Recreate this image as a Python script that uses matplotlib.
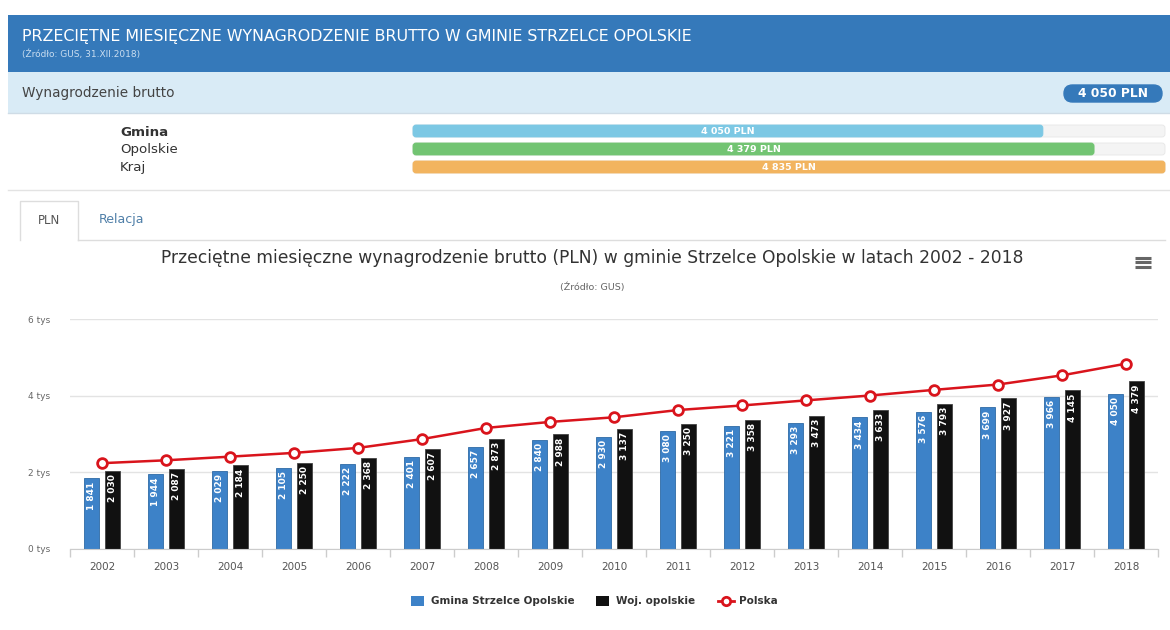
import numpy as np
import matplotlib
matplotlib.use('Agg')
import matplotlib.pyplot as plt
from matplotlib.patches import Rectangle, FancyBboxPatch

years = ['2002', '2003', '2004', '2005', '2006', '2007', '2008', '2009', '2010',
         '2011', '2012', '2013', '2014', '2015', '2016', '2017', '2018']
gmina = [1841, 1944, 2029, 2105, 2222, 2401, 2657, 2840, 2930,
         3080, 3221, 3293, 3434, 3576, 3699, 3966, 4050]
opolskie = [2030, 2087, 2184, 2250, 2368, 2607, 2873, 2988, 3137,
            3250, 3358, 3473, 3633, 3793, 3927, 4145, 4379]
polska = [2239, 2314, 2409, 2507, 2637, 2867, 3158, 3315, 3436,
          3625, 3744, 3877, 4004, 4151, 4291, 4530, 4835]

summary_names = ['Gmina', 'Opolskie', 'Kraj']
summary_values = [4050, 4379, 4835]
summary_colors = ['#7cc8e4', '#72c472', '#f2b45f']


def fmt(v):
    return f'{v:,}'.replace(',', ' ')


W, H = 1170, 630
fig = plt.figure(figsize=(W / 100, H / 100), dpi=100)
fig.patch.set_facecolor('white')

# full-figure axes in pixel coordinates for the page elements
bg = fig.add_axes([0, 0, 1, 1])
bg.set_xlim(0, W)
bg.set_ylim(H, 0)
bg.axis('off')

# header
bg.add_patch(Rectangle((8, 15), W - 8, 57, color='#3579ba', lw=0))
bg.text(22, 37, 'PRZECIĘTNE MIESIĘCZNE WYNAGRODZENIE BRUTTO W GMINIE STRZELCE OPOLSKIE',
        color='white', fontsize=11.4, va='center', ha='left')
bg.text(22, 54, '(Źródło: GUS, 31.XII.2018)', color='#c9ddf0', fontsize=6.5,
        va='center', ha='left')

bg.add_patch(Rectangle((8, 72), W - 8, 41, color='#d9ebf6', lw=0))
bg.plot([8, W], [113, 113], color='#cfdce6', lw=1)
bg.text(22, 93, 'Wynagrodzenie brutto', color='#444444', fontsize=9.8,
        va='center', ha='left')
bg.add_patch(FancyBboxPatch((1064, 85), 98, 17, boxstyle='round,pad=0,rounding_size=8.5',
                            fc='#3579ba', ec='#3579ba', lw=1))
bg.text(1113, 93.5, fmt(summary_values[0]) + ' PLN', color='white', fontsize=8.8,
        fontweight='bold', va='center', ha='center')

# summary bars
bar_x0, bar_w = 413, 752
row_y = [131, 149, 167]
vmax = max(summary_values)
for i, (name, val, col) in enumerate(zip(summary_names, summary_values, summary_colors)):
    y = row_y[i]
    bg.text(120, y + 1, name, color='#333333', fontsize=9.6,
            fontweight='bold' if i == 0 else 'normal', va='center', ha='left')
    bg.add_patch(FancyBboxPatch((bar_x0, y - 6), bar_w, 12,
                                boxstyle='round,pad=0,rounding_size=3',
                                fc='#f4f4f4', ec='#e6e6e6', lw=0.6))
    w = bar_w * val / vmax
    bg.add_patch(FancyBboxPatch((bar_x0, y - 6), w, 12,
                                boxstyle='round,pad=0,rounding_size=3',
                                fc=col, ec=col, lw=0.6))
    bg.text(bar_x0 + w / 2, y, fmt(val) + ' PLN', color='white', fontsize=6.8,
            fontweight='bold', va='center', ha='center')
bg.plot([8, W], [190, 190], color='#e3e3e3', lw=1)

# tabs
bg.plot([20, 20, 78, 78], [240, 201, 201, 240], color='#dddddd', lw=1)
bg.plot([78, 1165], [240, 240], color='#dddddd', lw=1)
bg.text(49, 220, 'PLN', color='#555555', fontsize=8.5, va='center', ha='center')
bg.text(121, 220, 'Relacja', color='#4f7fa8', fontsize=9, va='center', ha='center')

# chart titles
bg.text(592, 258, 'Przeciętne miesięczne wynagrodzenie brutto (PLN) w gminie Strzelce '
        'Opolskie w latach 2002 - 2018', color='#333333', fontsize=12.3,
        va='center', ha='center')
bg.text(592, 287, '(Źródło: GUS)', color='#666666', fontsize=6.8, va='center', ha='center')
for dy in (-4.5, 0, 4.5):
    bg.plot([1135, 1151], [262 + dy, 262 + dy], color='#666666', lw=2.2,
            solid_capstyle='butt')

# main chart
ax = fig.add_axes([70 / W, 81 / H, 1088 / W, 230 / H])
ax.set_facecolor('none')
x = np.arange(len(years))
bw = 0.23
off = 0.16
ax.bar(x - off, gmina, width=bw, color='#3d82c8', edgecolor='#2f6aa6',
       linewidth=0.6, zorder=2)
ax.bar(x + off, opolskie, width=bw, color='#111111', edgecolor='#444444',
       linewidth=0.6, zorder=2)
for xi, v in zip(x - off, gmina):
    ax.text(xi, v - 80, fmt(v), rotation=90, color='white', fontsize=6.5,
            fontweight='bold', ha='center', va='top', zorder=3)
for xi, v in zip(x + off, opolskie):
    ax.text(xi, v - 80, fmt(v), rotation=90, color='white', fontsize=6.5,
            fontweight='bold', ha='center', va='top', zorder=3)
ax.plot(x, polska, color='#d9141c', lw=1.8, marker='o', markersize=7,
        markerfacecolor='white', markeredgecolor='#d9141c', markeredgewidth=2,
        zorder=4, clip_on=False)

ax.set_xlim(-0.5, len(years) - 0.5)
ax.set_ylim(0, 6000)
ax.set_yticks([0, 2000, 4000, 6000])
ax.set_yticklabels(['0 tys', '2 tys', '4 tys', '6 tys'])
ax.yaxis.grid(True, color='#e3e3e3', lw=1, zorder=0)
ax.set_axisbelow(True)
ax.tick_params(axis='y', length=0, labelsize=6.5, labelcolor='#666666', pad=14)
ax.set_xticks(x)
ax.set_xticklabels(years)
ax.tick_params(axis='x', length=0, labelsize=7.5, labelcolor='#555555', pad=9)
ax.set_xticks(np.arange(-0.5, len(years), 1), minor=True)
ax.tick_params(axis='x', which='minor', length=6, color='#cccccc', width=1)
for s in ['top', 'right', 'left']:
    ax.spines[s].set_visible(False)
ax.spines['bottom'].set_color('#cccccc')

# legend
ly = 601
bg.add_patch(Rectangle((411, ly - 5), 13, 10, color='#3d82c8', lw=0))
bg.text(431, ly, 'Gmina Strzelce Opolskie', color='#333333', fontsize=7.5,
        fontweight='bold', va='center', ha='left')
bg.add_patch(Rectangle((596, ly - 5), 13, 10, color='#111111', lw=0))
bg.text(616, ly, 'Woj. opolskie', color='#333333', fontsize=7.5,
        fontweight='bold', va='center', ha='left')
bg.plot([718, 734], [ly, ly], color='#d9141c', lw=2)
bg.plot([726], [ly], marker='o', markersize=6, markerfacecolor='white',
        markeredgecolor='#d9141c', markeredgewidth=2)
bg.text(739, ly, 'Polska', color='#333333', fontsize=7.5, fontweight='bold',
        va='center', ha='left')

fig.savefig('out.png', dpi=100)
